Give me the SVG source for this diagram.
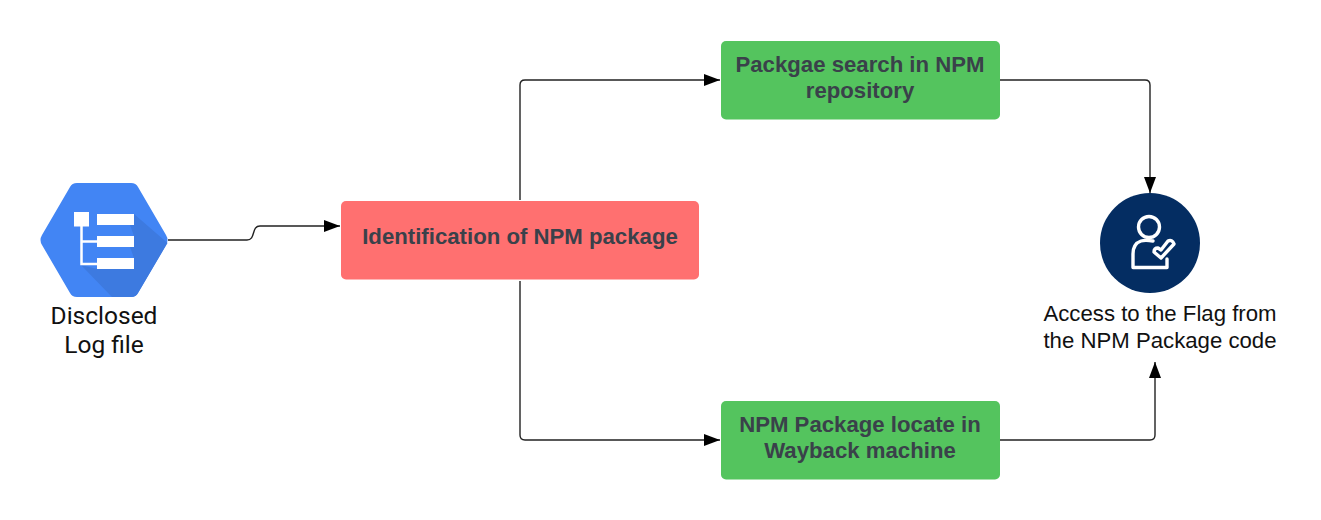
<svg xmlns="http://www.w3.org/2000/svg" width="1321" height="520" viewBox="0 0 1321 520">
<style>
.box{stroke:none}
.green{fill:#54c45e}
.red{fill:#ff7070}
.bt{font:bold 22.2px "Liberation Sans",Arial,sans-serif;fill:#3a414a;text-anchor:middle}
.lt{font:22.2px "Liberation Sans",Arial,sans-serif;fill:#111;text-anchor:middle}
.ll{font:24.5px Roboto,"Liberation Sans",Arial,sans-serif;fill:#111;text-anchor:middle}
.c{fill:none;stroke:#222;stroke-width:1.4}
.w{fill:none;stroke:#fff;stroke-width:3.4;stroke-linejoin:round;stroke-linecap:round}
</style>
<defs>
<marker id="a" markerUnits="userSpaceOnUse" markerWidth="17" markerHeight="12" refX="16" refY="6" orient="auto"><path d="M0 0L16 6L0 12Z" fill="#000"/></marker>
</defs>
<rect width="1321" height="520" fill="#fff"/>
<g id="connectors">
<path class="c" d="M168 240H247C256 240 251 226 260 226H340" marker-end="url(#a)"/>
<path class="c" d="M520 200V85Q520 80 525 80H720" marker-end="url(#a)"/>
<path class="c" d="M520 281V435Q520 440 525 440H720" marker-end="url(#a)"/>
<path class="c" d="M1000 80H1145Q1150 80 1150 85V193" marker-end="url(#a)"/>
<path class="c" d="M1000 440H1150Q1155 440 1155 435V362" marker-end="url(#a)"/>
</g>
<g id="log-file">
<path d="M70 187Q72 183 77 183H131Q136 183 138 187L166 235Q169 240 166 245L138 293Q136 297 131 297H77Q72 297 70 293L42 245Q39 240 42 235Z" fill="#4285f4"/>
<path d="M134 214L167.500 243L138 293Q136 297 131 297H112L81 265L97 269H134V258L130 247H134V236L130 225H134Z" fill="#3d7ae0"/>
<rect x="74" y="212" width="15" height="14.500" fill="#fff"/>
<rect x="97" y="214" width="37" height="11" fill="#fff"/>
<rect x="97" y="236" width="37" height="11" fill="#fff"/>
<rect x="97" y="258" width="37" height="11" fill="#fff"/>
<path d="M81.500 226V264H97M81.500 241.500H97" fill="none" stroke="#fff" stroke-width="2.500"/>
<text class="ll" x="104" y="324">Disclosed</text>
<text class="ll" x="104" y="353">Log file</text>
</g>
<g id="identification">
<rect class="box red" x="341" y="201" width="358" height="78.500" rx="5"/>
<text class="bt" x="520" y="244">Identification of NPM package</text>
</g>
<g id="search">
<rect class="box green" x="721" y="41" width="279" height="78.500" rx="5"/>
<text class="bt" x="860" y="72">Packgae search in NPM</text>
<text class="bt" x="860" y="98">repository</text>
</g>
<g id="wayback">
<rect class="box green" x="721" y="401" width="279" height="78.500" rx="5"/>
<text class="bt" x="860" y="432">NPM Package locate in</text>
<text class="bt" x="860" y="458">Wayback machine</text>
</g>
<g id="flag">
<circle cx="1150" cy="243" r="50" fill="#042d62"/>
<circle class="w" cx="1149" cy="227" r="10.500"/>
<path class="w" d="M1153 241C1147 240 1144 240 1141 241C1135 243 1133 248 1133 254V267.500H1167V259"/>
<path class="w" d="M1154 252L1161 258L1174 244Q1172 239 1168 241L1161 250L1158 248Q1154 248 1154 252Z"/>
<text class="lt" x="1160" y="321">Access to the Flag from</text>
<text class="lt" x="1160" y="348">the NPM Package code</text>
</g>
</svg>
